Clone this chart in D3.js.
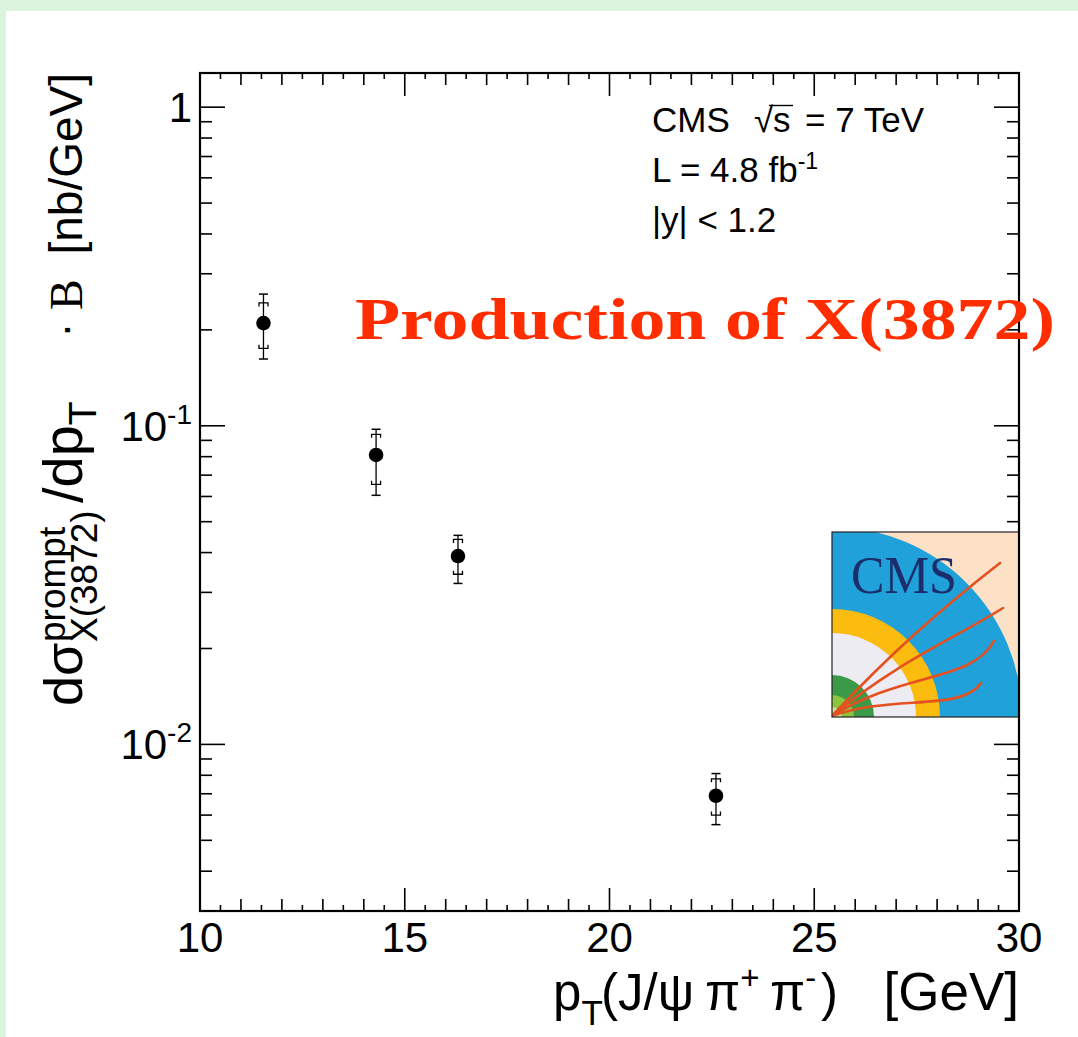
<!DOCTYPE html>
<html>
<head>
<meta charset="utf-8">
<script src="https://cdn.jsdelivr.net/npm/d3@7"></script>
<style>
  html, body { margin: 0; padding: 0; background: #ffffff; overflow: hidden; }
  svg { display: block; }
</style>
</head>
<body>
<script>
// Prompt X(3872) differential cross section, CMS 7 TeV
const ptBins   = [11.55, 14.3, 16.3, 22.6];          // GeV
const xsec     = [0.21, 0.081, 0.039, 0.0069];       // nb/GeV
const statLow  = [0.175, 0.0655, 0.0342, 0.0060];
const statHigh = [0.243, 0.094, 0.044, 0.0078];
const totLow   = [0.162, 0.0605, 0.032, 0.0056];
const totHigh  = [0.259, 0.0975, 0.0453, 0.0081];

const xDomain = [10, 30];
const yDomain = [0.003, 1.28];
const xTickLabels = [10, 15, 20, 25, 30];
const yTickLabels = [{v: 1, base: "1", exp: ""}, {v: 0.1, base: "10", exp: "-1"}, {v: 0.01, base: "10", exp: "-2"}];

const W = 1078, H = 1037;
const frame = {left: 200, top: 73, right: 1019, bottom: 911};
const sans = "'Liberation Sans', Arial, Helvetica, sans-serif";
const serif = "'Liberation Serif', 'Times New Roman', serif";

const svg = d3.select("body").append("svg").attr("width", W).attr("height", H);

// page panel
svg.append("rect").attr("x", 0).attr("y", 0).attr("width", W).attr("height", H).attr("fill", "#dcf4dc");
svg.append("rect").attr("x", 6).attr("y", 11).attr("width", W - 6).attr("height", H - 11).attr("fill", "#ffffff");

const x = d3.scaleLinear().domain(xDomain).range([frame.left, frame.right]);
const y = d3.scaleLog().domain(yDomain).range([frame.bottom, frame.top]);

const g = svg.append("g");

// ticks on all four sides, pointing inward
const xTicks = d3.range(xDomain[0], xDomain[1] + 0.001, 0.5);
xTicks.forEach(t => {
  const len = (Math.abs(t % 5) < 1e-6) ? 23 : (Math.abs(t % 1) < 1e-6 ? 12 : 6);
  if (t === xDomain[0] || t === xDomain[1]) return;
  const px = x(t);
  g.append("line").attr("x1", px).attr("x2", px).attr("y1", frame.bottom).attr("y2", frame.bottom - len)
    .attr("stroke", "#000").attr("stroke-width", 1.6);
  g.append("line").attr("x1", px).attr("x2", px).attr("y1", frame.top).attr("y2", frame.top + len)
    .attr("stroke", "#000").attr("stroke-width", 1.6);
});

const yTicks = [];
for (let e = -3; e <= 0; e++) {
  for (let m = 1; m <= 9; m++) {
    const v = m * Math.pow(10, e);
    if (v >= yDomain[0] && v <= yDomain[1]) yTicks.push({v, major: m === 1});
  }
}
yTicks.forEach(t => {
  const len = t.major ? 25 : 12;
  const py = y(t.v);
  g.append("line").attr("x1", frame.left).attr("x2", frame.left + len).attr("y1", py).attr("y2", py)
    .attr("stroke", "#000").attr("stroke-width", 1.6);
  g.append("line").attr("x1", frame.right).attr("x2", frame.right - len).attr("y1", py).attr("y2", py)
    .attr("stroke", "#000").attr("stroke-width", 1.6);
});

// tick labels
xTickLabels.forEach(t => {
  g.append("text").attr("x", x(t)).attr("y", 952).attr("text-anchor", "middle")
    .attr("font-family", sans).attr("font-size", 42).text(t);
});
yTickLabels.forEach(t => {
  const tx = g.append("text").attr("x", 192).attr("y", y(t.v) + 15).attr("text-anchor", "end")
    .attr("font-family", sans).attr("font-size", 42);
  tx.append("tspan").text(t.base);
  if (t.exp) tx.append("tspan").attr("dy", -17).attr("font-size", 28).text(t.exp);
});

// CMS logo in its box at the right of the plot
const logo = {x: 832, y: 532, w: 187, h: 185};
const defs = svg.append("defs");
defs.append("clipPath").attr("id", "logoClip").append("rect")
  .attr("x", 0).attr("y", 0).attr("width", logo.w).attr("height", logo.h);
const lg = svg.append("g").attr("transform", `translate(${logo.x},${logo.y})`);
const lc = lg.append("g").attr("clip-path", "url(#logoClip)");
lc.append("rect").attr("width", logo.w).attr("height", logo.h).attr("fill", "#fde1c6");
const rings = [
  {r: 190, c: "#21a1d9"},
  {r: 108, c: "#fbbb0f"},
  {r: 84, c: "#ececf2"},
  {r: 42, c: "#3b9a48"},
  {r: 22, c: "#8cc43e"},
  {r: 10, c: "#d8dc9a"}
];
rings.forEach(d => {
  lc.append("circle").attr("cx", 0).attr("cy", logo.h).attr("r", d.r).attr("fill", d.c);
});
lc.append("text").attr("x", 19).attr("y", 61).attr("font-family", serif).attr("font-size", 52)
  .attr("fill", "#1b2d6b").attr("textLength", 106).attr("lengthAdjust", "spacingAndGlyphs").text("CMS");
const tracks = [
  "M0,184 C55,125 105,80 168,31",
  "M0,184 C65,130 125,105 171,76",
  "M0,184 C70,140 140,150 162,109",
  "M0,184 C60,162 130,180 149,151"
];
tracks.forEach(p => {
  lc.append("path").attr("d", p).attr("fill", "none").attr("stroke", "#e4501f").attr("stroke-width", 2.6)
    .attr("stroke-linecap", "round");
});
lg.append("rect").attr("width", logo.w).attr("height", logo.h).attr("fill", "none")
  .attr("stroke", "#222").attr("stroke-width", 1.2);

// frame
svg.append("rect").attr("x", frame.left).attr("y", frame.top)
  .attr("width", frame.right - frame.left).attr("height", frame.bottom - frame.top)
  .attr("fill", "none").attr("stroke", "#000").attr("stroke-width", 2.2);

// data points: statistical (bracket ends) and total (flat caps) uncertainties
const pts = ptBins.map((p, i) => ({p, v: xsec[i], sl: statLow[i], sh: statHigh[i], tl: totLow[i], th: totHigh[i]}));
const dg = svg.append("g");
pts.forEach(d => {
  const px = x(d.p);
  const cap = 4.5, hook = 3.5;
  dg.append("line").attr("x1", px).attr("x2", px).attr("y1", y(d.tl)).attr("y2", y(d.th))
    .attr("stroke", "#000").attr("stroke-width", 1.3);
  [d.tl, d.th].forEach(v => {
    dg.append("line").attr("x1", px - cap).attr("x2", px + cap).attr("y1", y(v)).attr("y2", y(v))
      .attr("stroke", "#000").attr("stroke-width", 1.5);
  });
  const yh = y(d.sh), yl = y(d.sl);
  dg.append("path").attr("d", `M${px - cap},${yh + hook} L${px - cap},${yh} L${px + cap},${yh} L${px + cap},${yh + hook}`)
    .attr("fill", "none").attr("stroke", "#000").attr("stroke-width", 1.3);
  dg.append("path").attr("d", `M${px - cap},${yl - hook} L${px - cap},${yl} L${px + cap},${yl} L${px + cap},${yl - hook}`)
    .attr("fill", "none").attr("stroke", "#000").attr("stroke-width", 1.3);
  dg.append("circle").attr("cx", px).attr("cy", y(d.v)).attr("r", 7.3).attr("fill", "#000");
});

// run information
const info = svg.append("g").attr("font-family", sans).attr("font-size", 35).attr("fill", "#000");
info.append("text").attr("x", 652).attr("y", 132).text("CMS");
info.append("text").attr("x", 754).attr("y", 132).text("\u221A");
info.append("text").attr("x", 773).attr("y", 132).text("s");
info.append("line").attr("x1", 769).attr("x2", 793).attr("y1", 105.5).attr("y2", 105.5)
  .attr("stroke", "#000").attr("stroke-width", 1.4);
info.append("text").attr("x", 805).attr("y", 132).text("= 7 TeV");
const l2 = info.append("text").attr("x", 652).attr("y", 182);
l2.append("tspan").text("L = 4.8 fb");
l2.append("tspan").attr("dy", -13).attr("font-size", 23).text("-1");
info.append("text").attr("x", 652).attr("y", 232).text("|y| < 1.2");

svg.append("text").attr("x", 355).attr("y", 339).attr("font-family", serif).attr("font-weight", "bold")
  .attr("font-size", 60).attr("fill", "#ff2d00").attr("textLength", 700).attr("lengthAdjust", "spacingAndGlyphs")
  .text("Production of X(3872)");

// x-axis title, pieces placed along the baseline
const xtg = svg.append("g").attr("font-family", sans).attr("fill", "#000");
const xBase = 1010;
const xFs = 51;
const pT = xtg.append("text").attr("x", 553).attr("y", xBase).attr("font-size", xFs);
pT.append("tspan").text("p");
pT.append("tspan").attr("dy", 15).attr("font-size", 35).text("T");
xtg.append("text").attr("x", 601).attr("y", xBase).attr("font-size", xFs).text("(J/\u03C8");
const pip = xtg.append("text").attr("x", 705).attr("y", xBase).attr("font-size", xFs);
pip.append("tspan").text("\u03C0");
pip.append("tspan").attr("dy", -21).attr("font-size", 33).text("+");
const pim = xtg.append("text").attr("x", 770).attr("y", xBase).attr("font-size", xFs);
pim.append("tspan").text("\u03C0");
pim.append("tspan").attr("dy", -21).attr("font-size", 33).text("-");
xtg.append("text").attr("x", 821).attr("y", xBase).attr("font-size", xFs).text(")");
xtg.append("text").attr("x", 1019).attr("y", xBase).attr("font-size", 53).attr("text-anchor", "end").text("[GeV]");

// y-axis title, laid out along the rotated axis
const yTitle = svg.append("g").attr("transform", "translate(82,0) rotate(-90)")
  .attr("font-family", sans).attr("fill", "#000");
yTitle.append("text").attr("x", -706).attr("y", 0).attr("font-size", 54).text("d\u03C3");
yTitle.append("text").attr("x", -642).attr("y", -17).attr("font-size", 37).text("prompt");
yTitle.append("text").attr("x", -642).attr("y", 15).attr("font-size", 37).text("X(3872)");
const dp = yTitle.append("text").attr("x", -503).attr("y", 0).attr("font-size", 56);
dp.append("tspan").text("/dp");
dp.append("tspan").attr("dy", 14).attr("font-size", 39).text("T");
yTitle.append("text").attr("x", -330).attr("y", -2).attr("font-size", 46).attr("text-anchor", "middle").text("\u00B7");
yTitle.append("text").attr("x", -310).attr("y", 0).attr("font-size", 46).attr("font-family", serif).text("B");
yTitle.append("text").attr("x", -73).attr("y", 0).attr("font-size", 46).attr("text-anchor", "end").text("[nb/GeV]");
</script>
</body>
</html>
